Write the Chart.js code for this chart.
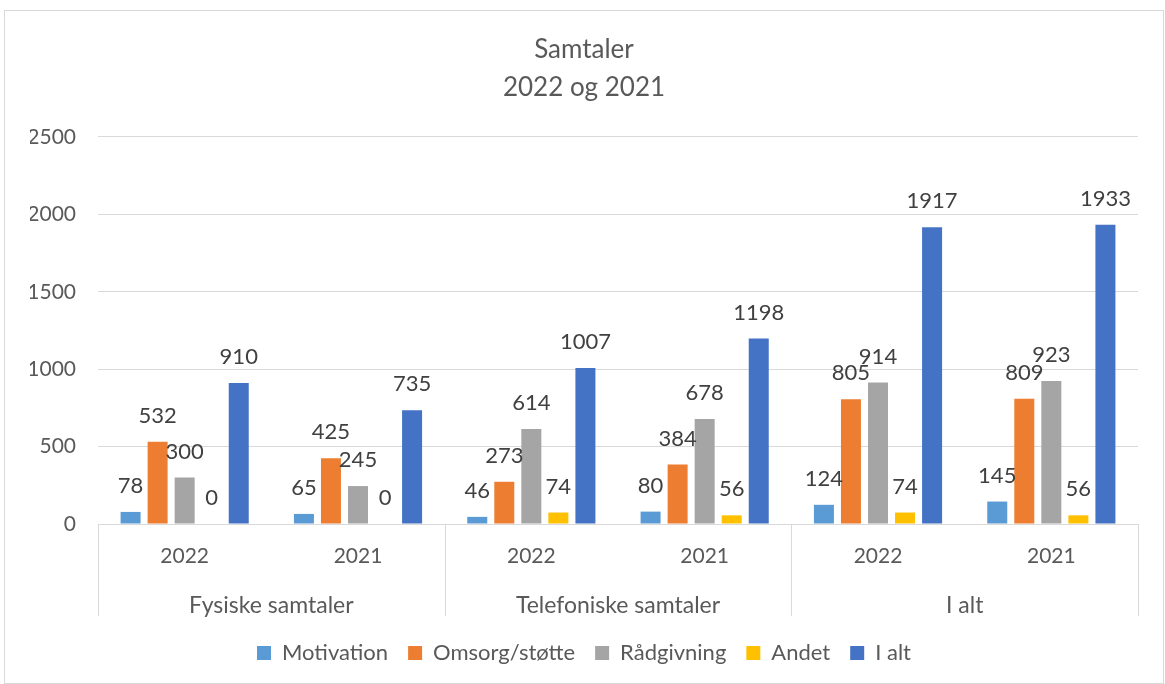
<!DOCTYPE html>
<html>
<head>
<meta charset="utf-8">
<script src="https://cdn.jsdelivr.net/npm/chart.js@4.4.1/dist/chart.umd.min.js"></script>
<style>
  body { margin: 0; background: #fff; }
  #wrap { position: absolute; left: 4px; top: 10px; width: 1158px; height: 672px; border: 1px solid #d9d9d9; }
</style>
</head>
<body>
<div id="wrap"><canvas id="chart"></canvas></div>
<script>
const years = ["2022", "2021", "2022", "2021", "2022", "2021"];
const groups = ["Fysiske samtaler", "Telefoniske samtaler", "I alt"];
const motivation = [78, 65, 46, 80, 124, 145];
const omsorg = [532, 425, 273, 384, 805, 809];
const raadgivning = [300, 245, 614, 678, 914, 923];
const andet = [0, 0, 74, 56, 74, 56];
const iAlt = [910, 735, 1007, 1198, 1917, 1933];
const yTicks = [0, 500, 1000, 1500, 2000, 2500];

const FONT = "Lato";

// value labels above bars + group separators on the x axis
const extras = {
  id: "extras",
  afterDatasetsDraw(chart) {
    const ctx = chart.ctx;
    ctx.save();
    ctx.font = "22px " + FONT;
    ctx.fillStyle = "#404040";
    ctx.textAlign = "center";
    ctx.textBaseline = "middle";
    chart.data.datasets.forEach((ds, i) => {
      chart.getDatasetMeta(i).data.forEach((bar, j) => {
        ctx.fillText(ds.data[j], bar.x, bar.y - 26);
      });
    });
    const x2 = chart.scales.x2;
    const step = (x2.right - x2.left) / groups.length;
    ctx.strokeStyle = "#d9d9d9";
    ctx.lineWidth = 1;
    for (let i = 0; i <= groups.length; i++) {
      const x = Math.round(x2.left + i * step) + 0.5;
      ctx.beginPath();
      ctx.moveTo(x, chart.chartArea.bottom);
      ctx.lineTo(x, x2.top + 34);
      ctx.stroke();
    }
    ctx.restore();
  }
};

new Chart(document.getElementById("chart"), {
  type: "bar",
  data: {
    labels: years,
    datasets: [
      { label: "Motivation", data: motivation, backgroundColor: "#5B9BD5" },
      { label: "Omsorg/støtte", data: omsorg, backgroundColor: "#ED7D31" },
      { label: "Rådgivning", data: raadgivning, backgroundColor: "#A5A5A5" },
      { label: "Andet", data: andet, backgroundColor: "#FFC000" },
      { label: "I alt", data: iAlt, backgroundColor: "#4472C4" }
    ]
  },
  options: {
    responsive: true,
    maintainAspectRatio: false,
    animation: false,
    categoryPercentage: 0.78,
    barPercentage: 0.74,
    layout: { padding: { left: 25, right: 25, top: 20, bottom: 9 } },
    plugins: {
      title: {
        display: true,
        text: ["Samtaler", "2022 og 2021"],
        color: "#595959",
        font: { family: FONT, size: 26, weight: "normal", lineHeight: 1.46 },
        padding: { top: 0, bottom: 30 }
      },
      legend: {
        position: "bottom",
        labels: {
          color: "#595959",
          font: { family: FONT, size: 22 },
          boxWidth: 14,
          boxHeight: 14,
          padding: 20
        }
      },
      tooltip: { enabled: false }
    },
    scales: {
      x: {
        grid: { display: false },
        border: { color: "#d9d9d9" },
        ticks: { color: "#595959", font: { family: FONT, size: 21 }, padding: 12 },
        afterFit(scale) { scale.height = 58; }
      },
      x2: {
        type: "category",
        labels: groups,
        position: "bottom",
        offset: true,
        grid: { display: false },
        border: { display: false },
        ticks: { color: "#595959", font: { family: FONT, size: 23 }, padding: 2 },
        afterFit(scale) { scale.height = 40; }
      },
      y: {
        min: 0,
        max: 2500,
        afterBuildTicks(scale) { scale.ticks = yTicks.map(v => ({ value: v })); },
        afterFit(scale) { scale.width = 68; },
        grid: { color: "#d9d9d9", drawTicks: false },
        border: { display: false },
        ticks: {
          color: "#595959",
          font: { family: FONT, size: 21 },
          padding: 22,
          callback: (v) => String(v)
        }
      }
    }
  },
  plugins: [extras]
});
</script>
</body>
</html>
